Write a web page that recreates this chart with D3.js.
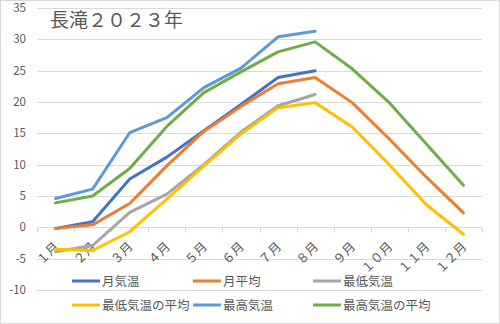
<!DOCTYPE html>
<html><head><meta charset="utf-8">
<script src="https://cdn.jsdelivr.net/npm/d3@7"></script>
<style>body{margin:0;background:#fff}svg{display:block}text{font-family:"Noto Sans CJK JP","Noto Sans",sans-serif}</style>
</head><body><svg id="c" width="500" height="324"></svg>
<script>
const months = ["１月","２月","３月","４月","５月","６月","７月","８月","９月","１０月","１１月","１２月"];
const yTicks = [-10,-5,0,5,10,15,20,25,30,35];
const seriesNames = ["月気温","月平均","最低気温","最低気温の平均","最高気温","最高気温の平均"];
const seriesColors = ["#4472C4","#ED7D31","#A5A5A5","#FFC000","#5B9BD5","#70AD47"];
const monthTemp    = [-0.2, 0.9, 7.7, 11.2, 15.4, 19.6, 23.9, 25.0];
const monthAvg     = [-0.2, 0.4, 3.8, 9.8, 15.3, 19.3, 22.9, 23.9, 19.9, 14.1, 8.0, 2.3];
const minTemp      = [-3.9, -2.9, 2.4, 5.3, 10.0, 15.2, 19.4, 21.2];
const minAvg       = [-3.5, -3.7, -0.7, 4.5, 9.8, 14.9, 19.1, 19.9, 16.0, 10.0, 3.6, -1.1];
const maxTemp      = [4.6, 6.1, 15.1, 17.5, 22.3, 25.4, 30.4, 31.3];
const maxAvg       = [3.9, 5.0, 9.4, 16.1, 21.5, 24.8, 28.0, 29.6, 25.3, 19.9, 13.3, 6.7];
const seriesData = [monthTemp, monthAvg, minTemp, minAvg, maxTemp, maxAvg];
const title = "長滝２０２３年";

const svg = d3.select("#c");
svg.append("rect").attr("x",0.5).attr("y",0.5).attr("width",499).attr("height",323)
  .attr("fill","#fff").attr("stroke","#d9d9d9");
const x = d3.scaleBand().domain(months).range([37,482]).padding(0);
const y = d3.scaleLinear().domain([-10,35]).range([290,8]);
const cx = m => x(m) + x.bandwidth()/2;

// gridlines
svg.append("g").selectAll("line").data(yTicks.filter(t=>t!==0)).join("line")
  .attr("x1",37).attr("x2",482).attr("y1",d=>Math.round(y(d))+0.5).attr("y2",d=>Math.round(y(d))+0.5)
  .attr("stroke","#d9d9d9").attr("stroke-width",1);
// y labels
svg.append("g").selectAll("text").data(yTicks).join("text")
  .attr("x",26).attr("y",d=>y(d)+4).attr("text-anchor","end")
  .attr("font-size",11.5).attr("fill","#595959").text(d=>d);
// category axis at 0
const y0 = Math.round(y(0))+0.5;
svg.append("line").attr("x1",37).attr("x2",482).attr("y1",y0).attr("y2",y0).attr("stroke","#d9d9d9");
const bounds = months.map(m=>x(m)).concat([482]);
svg.append("g").selectAll("line").data(bounds).join("line")
  .attr("x1",d=>Math.round(d)+0.5).attr("x2",d=>Math.round(d)+0.5).attr("y1",y0).attr("y2",y0+5)
  .attr("stroke","#d9d9d9");
svg.append("g").selectAll("text").data(months).join("text")
  .attr("transform",m=>`translate(${cx(m)+4},${y0+20}) rotate(-45)`)
  .attr("text-anchor","end").attr("font-size",12.5).attr("fill","#595959").text(m=>m);

// lines
const line = d3.line().x((d,i)=>cx(months[i])).y(d=>y(d));
svg.append("g").selectAll("path").data(seriesData).join("path")
  .attr("d",d=>line(d)).attr("fill","none")
  .attr("stroke",(d,i)=>seriesColors[i]).attr("stroke-width",3)
  .attr("stroke-linejoin","round").attr("stroke-linecap","round");

// title
svg.append("text").attr("x",50).attr("y",27).attr("font-size",19).attr("fill","#595959").text(title);

// legend
const colX = [72,193,313];
const rowY = [281,305];
const lg = svg.append("g").selectAll("g").data(seriesNames).join("g")
  .attr("transform",(d,i)=>`translate(${colX[i%3]},${rowY[Math.floor(i/3)]})`);
lg.append("line").attr("x1",0).attr("x2",28).attr("y1",0).attr("y2",0)
  .attr("stroke",(d,i)=>seriesColors[i]).attr("stroke-width",3);
lg.append("text").attr("x",30).attr("y",4.5).attr("font-size",12.5).attr("fill","#595959").text(d=>d);
</script></body></html>
